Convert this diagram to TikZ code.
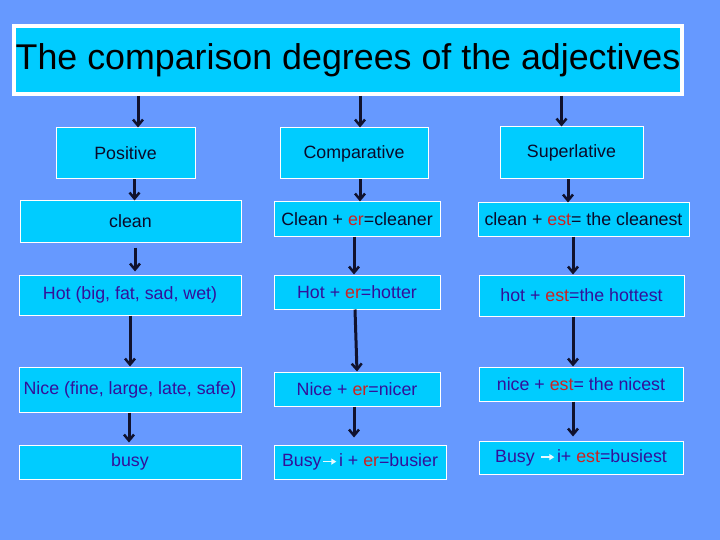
\documentclass[tikz,border=0pt]{standalone}
\usepackage{fontspec}
\setmainfont{Liberation Sans}
\usetikzlibrary{arrows.meta}
\definecolor{bgblue}{HTML}{6699FF}
\definecolor{boxcyan}{HTML}{00CCFF}
\definecolor{arrownavy}{HTML}{10122E}
\definecolor{darktext}{HTML}{0A0A2A}
\definecolor{purpletext}{HTML}{33119A}
\definecolor{redtext}{HTML}{CC2222}
\newcommand{\suf}[1]{\textcolor{redtext}{#1}}
\newcommand{\wharrow}{\kern1pt\tikz[baseline={(0pt,0pt)}]\draw[white!90!boxcyan,line width=1.4pt,-{Triangle[length=5pt,width=6pt]}] (0pt,5pt) -- (13pt,5pt);\kern2pt}
\begin{document}
\begin{tikzpicture}[
			x=1pt,y=-1pt,
			titlebox/.style={draw=white,line width=4pt,fill=boxcyan,inner sep=0pt,
				font=\fontsize{35.8}{40}\selectfont},
			wordbox/.style={draw=white,line width=1pt,fill=boxcyan,inner sep=0pt,
				text=purpletext,font=\fontsize{17.8}{20}\selectfont},
			hdrbox/.style={wordbox,text=darktext},
			down/.style={draw=arrownavy,line width=3pt,-{Straight Barb[length=6pt,width=10pt,line width=2.5pt]}}
		]
		\fill[bgblue] (0,0) rectangle (720,540);
		\node[titlebox,minimum width=668pt,minimum height=68pt] (title) at (348,60) {The comparison degrees of the adjectives};
		\node[hdrbox,minimum width=139pt,minimum height=51pt] (positive) at (125.5,153.5) {Positive};
		\node[hdrbox,minimum width=148pt,minimum height=51pt] (comparative) at (354,153.5) {Comparative};
		\node[hdrbox,minimum width=143pt,minimum height=52pt] (superlative) at (571.5,153) {Superlative};
		\node[hdrbox,minimum width=221pt,minimum height=41pt] (clean) at (130.5,221.5) {clean};
		\node[wordbox,minimum width=222pt,minimum height=40pt] (hot) at (130,295) {Hot (big, fat, sad, wet)};
		\node[wordbox,minimum width=222pt,minimum height=45pt] (nice) at (130,389.5) {Nice (fine, large, late, safe)};
		\node[wordbox,minimum width=222pt,minimum height=34pt] (busy) at (130,462) {busy};
		\node[hdrbox,minimum width=166pt,minimum height=34pt] (cleaner) at (357,219) {Clean + \suf{er}=cleaner};
		\node[wordbox,minimum width=166pt,minimum height=34pt] (hotter) at (357,292) {Hot + \suf{er}=hotter};
		\node[wordbox,minimum width=166pt,minimum height=34pt] (nicer) at (357,389) {Nice + \suf{er}=nicer};
		\node[wordbox,minimum width=172pt,minimum height=34pt] (busier) at (360,462) {Busy\wharrow i + \suf{er}=busier};
		\node[hdrbox,minimum width=211pt,minimum height=33pt] (cleanest) at (583.5,219.5) {clean + \suf{est}= the cleanest};
		\node[wordbox,minimum width=205pt,minimum height=41pt] (hottest) at (581.5,295.5) {hot + \suf{est}=the hottest};
		\node[wordbox,minimum width=204pt,minimum height=34pt] (nicest) at (581,384) {nice + \suf{est}= the nicest};
		\node[wordbox,minimum width=204pt,minimum height=33pt] (busiest) at (581,457.5) {Busy \wharrow i+ \suf{est}=busiest};
		\draw[down] (title.south -| 138,0) -- (positive.north -| 138,0);
		\draw[down] (title.south -| 360,0) -- (comparative.north -| 360,0);
		\draw[down] (title.south -| 561.5,0) -- (superlative.north -| 561.5,0);
		\draw[down] (positive.south -| 134.5,0) -- (clean.north -| 134.5,0);
		\draw[down] (comparative.south -| 360,0) -- (cleaner.north -| 360,0);
		\draw[down] (superlative.south -| 568,0) -- (cleanest.north -| 568,0);
		\draw[down,shorten <=5pt,shorten >=3pt] (clean.south -| 135,0) -- (hot.north -| 135,0);
		\draw[down] (hot.south -| 130,0) -- (nice.north -| 130,0);
		\draw[down,shorten >=2pt] (nice.south -| 129,0) -- (busy.north -| 129,0);
		\draw[down] (cleaner.south -| 354,0) -- (hotter.north -| 354,0);
		\draw[down] (hotter.south -| 355,0) -- (nicer.north -| 357,0);
		\draw[down,shorten >=7pt] (nicer.south -| 354,0) -- (busier.north -| 354,0);
		\draw[down] (cleanest.south -| 573,0) -- (hottest.north -| 573,0);
		\draw[down] (hottest.south -| 573,0) -- (nicest.north -| 573,0);
		\draw[down,shorten >=4pt] (nicest.south -| 573,0) -- (busiest.north -| 573,0);
	\end{tikzpicture}
\end{document}
